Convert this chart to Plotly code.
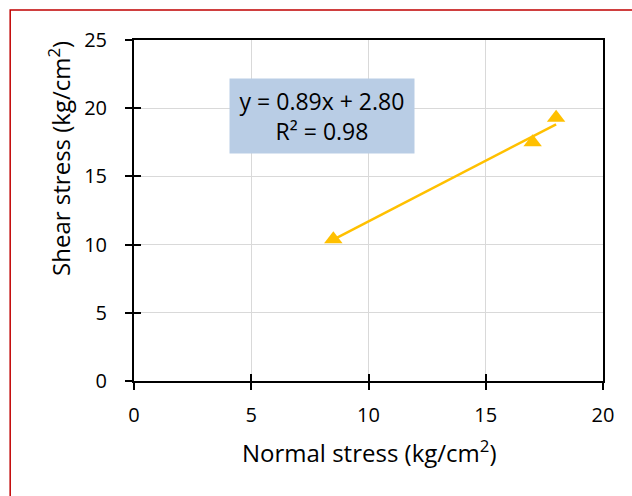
import plotly.graph_objects as go

normal_stress = [8.5, 17.0, 18.0]
shear_stress = [10.4, 17.5, 19.3]
slope = 0.89
intercept = 2.80
r_squared = 0.98
x_ticks = [0, 5, 10, 15, 20]
y_ticks = [0, 5, 10, 15, 20, 25]

gold = "#FFC000"
font_family = "Open Sans, Liberation Sans, sans-serif"

fig = go.Figure()
trend_x = [min(normal_stress), max(normal_stress)]
trend_y = [slope * v + intercept for v in trend_x]
fig.add_trace(go.Scatter(x=trend_x, y=trend_y, mode="lines",
                         line=dict(color=gold, width=2.5), showlegend=False, hoverinfo="skip"))
fig.add_trace(go.Scatter(x=normal_stress, y=shear_stress, mode="markers",
                         marker=dict(symbol="triangle-up", size=16, color=gold),
                         showlegend=False))

axis_common = dict(showline=True, linecolor="black", linewidth=2, mirror=True,
                   ticks="outside", ticklen=7, tickcolor="black", tickwidth=1.5,
                   showgrid=True, gridcolor="#d9d9d9", gridwidth=1, zeroline=False,
                   tickfont=dict(size=20, color="black", family=font_family))

fig.update_xaxes(range=[0, 20], tickvals=x_ticks, ticklabelstandoff=8, **axis_common)
fig.update_yaxes(range=[0, 25], tickvals=y_ticks, ticklabelstandoff=14, **axis_common)

# overlay axes to draw the inner half of the crossing tick marks
fig.update_layout(
    xaxis2=dict(overlaying="x", range=[0, 20], tickvals=x_ticks, ticks="inside", ticklen=7,
                tickcolor="black", tickwidth=1.5, showticklabels=False, showgrid=False,
                zeroline=False, showline=False, side="bottom"),
    yaxis2=dict(overlaying="y", range=[0, 25], tickvals=y_ticks, ticks="inside", ticklen=7,
                tickcolor="black", tickwidth=1.5, showticklabels=False, showgrid=False,
                zeroline=False, showline=False, side="left"),
)
fig.add_trace(go.Scatter(x=[None], y=[None], xaxis="x2", yaxis="y2", showlegend=False))

fig.add_annotation(x=8.02, y=19.4, xref="x", yref="y", showarrow=False,
                   text=f"y = {slope:.2f}x + {intercept:.2f}<br>R² = {r_squared:.2f}",
                   font=dict(size=23, color="black", family=font_family),
                   bgcolor="#b9cde5", width=182, height=72, align="center")

fig.add_annotation(x=0.5, y=-0.208, xref="paper", yref="paper", showarrow=False,
                   xanchor="center", yanchor="middle",
                   text="Normal stress (kg/cm<sup>2</sup>)",
                   font=dict(size=24, color="black", family=font_family))
fig.add_annotation(x=-0.158, y=0.654, xref="paper", yref="paper", showarrow=False,
                   xanchor="center", yanchor="middle",
                   textangle=-90, text="Shear stress (kg/cm<sup>2</sup>)",
                   font=dict(size=24, color="black", family=font_family))

fig.add_shape(type="rect", xref="paper", yref="paper",
              x0=-0.264, x1=1.3, y0=-0.6, y1=1.088,
              line=dict(color="#C00000", width=1.5), layer="above")

fig.update_layout(width=632, height=496, plot_bgcolor="white", paper_bgcolor="white",
                  margin=dict(l=134, r=29, t=40, b=115),
                  font=dict(family=font_family, color="black"))

fig.write_html("out.html")
